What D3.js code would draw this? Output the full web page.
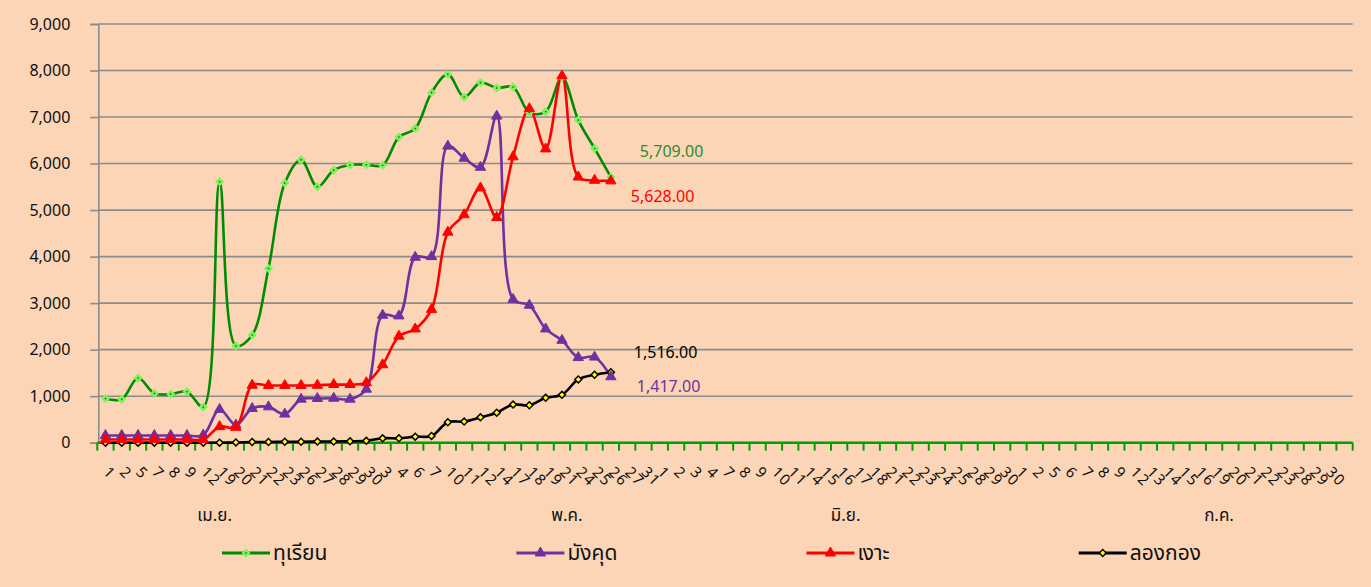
<!DOCTYPE html>
<html><head><meta charset="utf-8">
<script src="https://cdn.jsdelivr.net/npm/d3@7"></script>
<style>
html,body{margin:0;padding:0;background:#FBD5B5;}
svg{display:block;font-family:"Noto Sans Thai","Noto Sans","DejaVu Sans",sans-serif;}
</style></head>
<body><svg id="c" width="1371" height="587"></svg>
<script>
// ---- data ----
const categories = [
 "1","2","5","7","8","9","12","19","20","21","22","23","26","27","28","29","30",
 "3","4","6","7","10","11","12","14","17","18","19","21","24","25","26","27","31",
 "1","2","3","4","7","8","9","10","11","14","15","16","17","18","21","22","23","24","25","28","29","30",
 "1","2","5","6","7","8","9","12","13","14","15","16","19","20","21","22","23","28","29","30",""
];
const months = ["เม.ย.","พ.ค.","มิ.ย.","ก.ค."];
const monthPos = [6.7, 28.3, 45.4, 68.3]; // category index where each month label sits
const seriesNames = ["ทุเรียน","มังคุด","เงาะ","ลองกอง"];
const durian = [950,935,1390,1060,1045,1095,765,5610,2080,2315,3745,5580,6080,5500,5860,5970,5975,5965,6570,6755,7525,7920,7430,7740,7625,7645,7095,7115,7850,6935,6325,5709];
const mangosteen = [155,155,155,155,155,155,165,715,380,735,770,615,935,950,955,935,1150,2740,2725,3985,4000,6375,6115,5920,7020,3080,2955,2445,2200,1830,1840,1417];
const rambutan = [70,70,70,70,70,70,70,345,330,1235,1230,1230,1230,1235,1250,1250,1290,1675,2290,2445,2865,4525,4900,5475,4840,6145,7180,6315,7885,5710,5640,5628];
const longkong = [0,0,0,0,0,0,0,0,5,15,15,20,20,25,25,30,40,95,95,130,145,440,455,545,645,820,805,965,1030,1360,1460,1516];
const yTicks = [0,1000,2000,3000,4000,5000,6000,7000,8000,9000];

// ---- styles ----
const diamond = d3.symbolSquare; // drawn rotated 45deg
const styles = [
 {data:durian, color:"#008C00", sym:diamond, rot:45, size:16, fill:"#0A7A0A", stroke:"#7CF25A", sw:2.5, label:"#2E8B2E", off:[29,-20]},
 {data:mangosteen, color:"#7030A0", sym:d3.symbolTriangle, rot:0, size:46, fill:"#7030A0", stroke:"#7030A0", sw:1, label:"#7030A0", off:[26,15]},
 {data:rambutan, color:"#FF0000", sym:d3.symbolTriangle, rot:0, size:46, fill:"#FF0000", stroke:"#FF0000", sw:1, label:"#FF0000", off:[20,21]},
 {data:longkong, color:"#000000", sym:diamond, rot:45, size:24, fill:"#FFFF00", stroke:"#000000", sw:1.5, label:"#000000", off:[23,-14]}
];

const svg = d3.select("#c");
const x = d3.scaleBand().domain(d3.range(categories.length)).range([97.3,1352.7]).paddingInner(0).paddingOuter(0);
const y = d3.scaleLinear().domain([0,9000]).range([442.7,24]);
const cx = i => x(i) + x.bandwidth()/2;

// gridlines
svg.append("g").selectAll("line").data(yTicks.filter(d=>d>0)).join("line")
  .attr("x1",98.3).attr("x2",1352.7).attr("y1",d=>y(d)).attr("y2",d=>y(d))
  .attr("stroke","#8C8C8C").attr("stroke-width",1.6);

// y axis
const ya = svg.append("g").attr("transform","translate(98.3,0)")
  .call(d3.axisLeft(y).tickValues(yTicks).tickSize(8).tickPadding(20).tickFormat(d3.format(",")));
ya.select(".domain").attr("stroke","#8C8C8C").attr("stroke-width",1.6);
ya.selectAll(".tick line").attr("stroke","#8C8C8C").attr("stroke-width",1.6);
ya.selectAll(".tick text").attr("font-size",16).attr("fill","#111").attr("font-family","'Noto Sans',sans-serif");

// x axis (green) with boundary ticks
svg.append("line").attr("x1",97.3).attr("x2",1352.7).attr("y1",y(0)).attr("y2",y(0))
  .attr("stroke","#00A000").attr("stroke-width",2.5);
svg.append("g").selectAll("line").data(d3.range(categories.length+1)).join("line")
  .attr("x1",i=> i<categories.length ? x(i) : x(categories.length-1)+x.bandwidth())
  .attr("x2",i=> i<categories.length ? x(i) : x(categories.length-1)+x.bandwidth())
  .attr("y1",y(0)).attr("y2",y(0)+8).attr("stroke","#00A000").attr("stroke-width",2);

// x labels rotated (start-anchored, reading down-right)
svg.append("g").selectAll("text").data(categories).join("text")
  .attr("transform",(d,i)=>`translate(${cx(i)-3},473) rotate(45)`)
  .attr("text-anchor","start").attr("font-size",15).attr("letter-spacing",1.5).attr("fill","#111")
  .attr("font-family","'Noto Sans',sans-serif").text(d=>d);

// month labels
svg.append("g").selectAll("text").data(months).join("text")
  .attr("x",(d,i)=>x(0)+x.bandwidth()*(monthPos[i]+0.5)).attr("y",521)
  .attr("text-anchor","middle").attr("font-size",17).attr("fill","#111").text(d=>d);

// lines
const line = d3.line().x((d,i)=>cx(i)).y(d=>y(d)).curve(d3.curveCatmullRom.alpha(0.5));
const draw = [0,3,1,2];
draw.forEach(k=>{
  const s = styles[k];
  svg.append("path").datum(s.data).attr("d",line).attr("fill","none")
    .attr("stroke",s.color).attr("stroke-width",2.6);
});
draw.forEach(k=>{
  const s = styles[k];
  const sym = d3.symbol().type(s.sym).size(s.size);
  svg.append("g").selectAll("path").data(s.data).join("path")
    .attr("transform",(d,i)=>`translate(${cx(i)},${y(d)}) rotate(${s.rot})`)
    .attr("d",sym).attr("fill",s.fill).attr("stroke",s.stroke).attr("stroke-width",s.sw);
});
// end labels
styles.forEach(s=>{
  const n = s.data.length-1;
  svg.append("text").attr("x",cx(n)+s.off[0]).attr("y",y(s.data[n])+s.off[1])
    .attr("font-size",16).attr("fill",s.label).attr("font-family","'Noto Sans',sans-serif")
    .text(d3.format(",.2f")(s.data[n]));
});

// legend: items spread between 222 and 1201
const lg = svg.append("g");
const items = seriesNames.map((name,k)=>{
  const g = lg.append("g");
  const s = styles[k];
  g.append("line").attr("x1",0).attr("x2",48).attr("y1",0).attr("y2",0).attr("stroke",s.color).attr("stroke-width",3);
  g.append("path").attr("transform",`translate(24,0) rotate(${s.rot})`).attr("d",d3.symbol().type(s.sym).size(s.size)())
    .attr("fill",s.fill).attr("stroke",s.stroke).attr("stroke-width",s.sw);
  const t = g.append("text").attr("x",51).attr("y",7).attr("font-size",21).attr("fill","#111").text(name);
  return {g, w:51+t.node().getComputedTextLength()};
});
const lgStart = 222, lgEnd = 1201;
const gap = (lgEnd - lgStart - d3.sum(items,d=>d.w)) / (items.length-1);
let pos = lgStart;
items.forEach(it=>{ it.g.attr("transform",`translate(${pos},553)`); pos += it.w + gap; });
</script></body></html>
